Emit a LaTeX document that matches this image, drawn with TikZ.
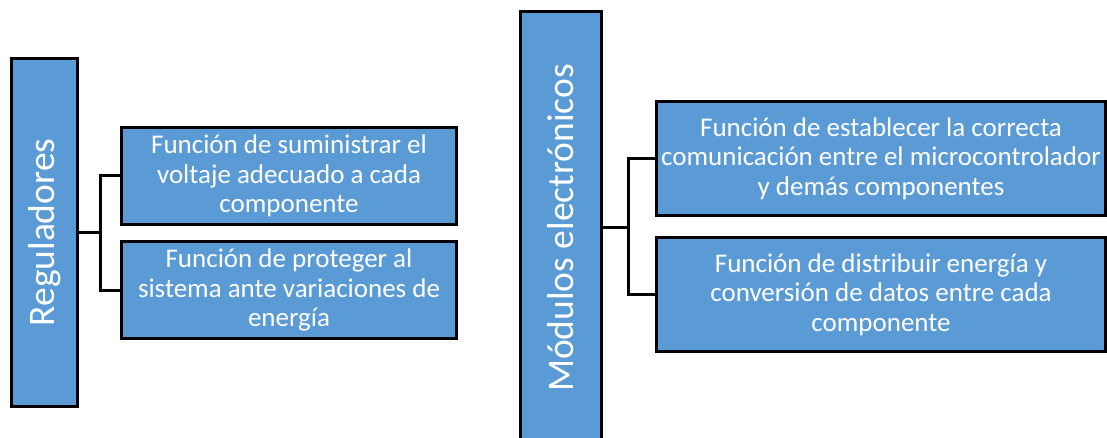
\documentclass[tikz,border=0pt]{standalone}
\usepackage{fontspec}
\setmainfont{Carlito}
\usepackage{tikz}
\usetikzlibrary{positioning}

\definecolor{boxblue}{HTML}{5B9BD5}

\begin{document}
\begin{tikzpicture}[x=1pt, y=-1pt, line width=3pt]

\tikzstyle{tallbox} = [rectangle, draw, fill=boxblue, text=white, rotate=90,
    font=\fontsize{37.5}{44}\selectfont, inner sep=0pt]
\tikzstyle{block} = [rectangle, draw, fill=boxblue, text=white, align=center,
    font=\fontsize{27}{29.5}\selectfont, inner sep=0pt]
\tikzstyle{line} = [draw, line width=3pt]

    \clip (0,0) rectangle (1107,438);
    % Place nodes
    \node [tallbox, minimum width=348pt, minimum height=66pt] (reg) at (44.5,232.5) {Reguladores};
    \node [block, minimum width=335pt, minimum height=97pt] (volt) at (289,176)
        {Función de suministrar el\\voltaje adecuado a cada\\componente};
    \node [block, minimum width=335pt, minimum height=97pt] (prot) at (289,290)
        {Función de proteger al\\sistema ante variaciones de\\energía};
    \node [tallbox, minimum width=433pt, minimum height=81pt] (mod) at (561,228) {Módulos electrónicos};
    \node [block, minimum width=449pt, minimum height=114pt] (comu) at (881,158.5)
        {Función de establecer la correcta\\comunicación entre el microcontrolador\\y demás componentes};
    \node [block, minimum width=449pt, minimum height=114pt] (dist) at (881,294.5)
        {Función de distribuir energía y\\conversión de datos entre cada\\componente};
    % Draw edges
    \path [line] (reg.south) -- ++(21,0) coordinate (regfork);
    \path [line] (volt.west) -| (regfork) |- (prot.west);
    \path [line] (mod.south) -- ++(25,0) coordinate (modfork);
    \path [line] (comu.west) -| (modfork) |- (dist.west);
\end{tikzpicture}
\end{document}
